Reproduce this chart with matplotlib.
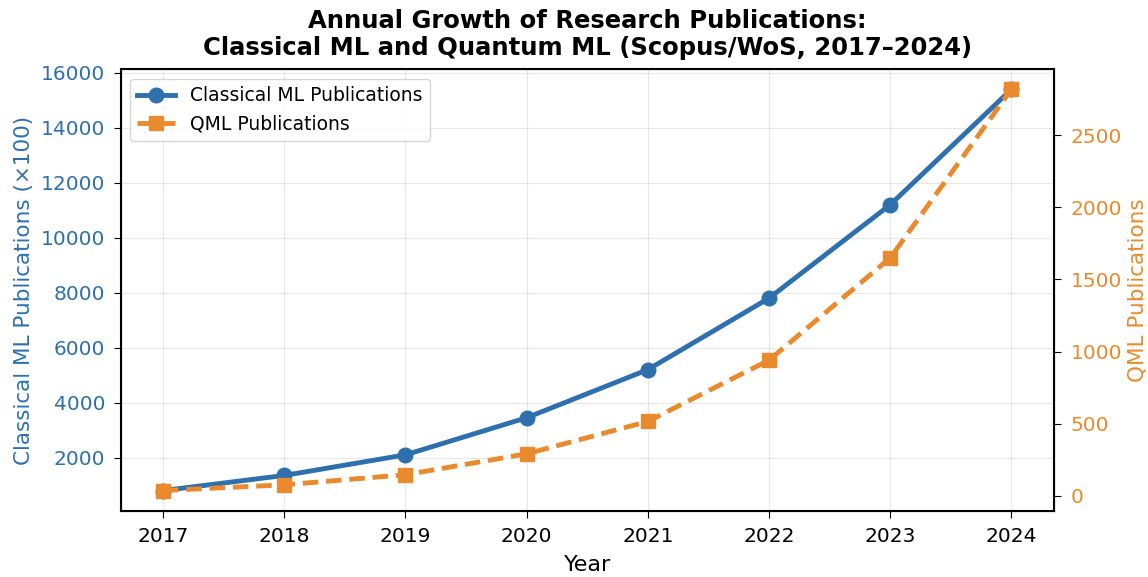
import matplotlib
matplotlib.use('Agg')
import matplotlib.pyplot as plt

# 数据
years = [2017, 2018, 2019, 2020, 2021, 2022, 2023, 2024]
classical_ml = [800, 1350, 2100, 3450, 5200, 7800, 11200, 15400]
qml = [35, 75, 145, 290, 515, 940, 1650, 2820]

blue = '#2E6FAE'
orange = '#E88A2D'

fig, ax1 = plt.subplots(figsize=(11.48, 5.77), dpi=100)

l1, = ax1.plot(years, classical_ml, color=blue, marker='o', linewidth=3.5,
               markersize=10.5, label='Classical ML Publications')
ax1.set_xlabel('Year', fontsize=16, labelpad=6)
ax1.set_ylabel('Classical ML Publications (×100)', color=blue, fontsize=15.5, labelpad=5)
ax1.tick_params(axis='y', labelcolor=blue, labelsize=14.5, pad=6, length=5)
ax1.tick_params(axis='x', labelsize=14.5, pad=7, length=5)
ax1.grid(True, alpha=0.3)

ax2 = ax1.twinx()
l2, = ax2.plot(years, qml, color=orange, marker='s', linestyle='--', linewidth=3.5,
               markersize=10.5, dashes=(3.2, 1.6), label='QML Publications')
ax2.set_ylabel('QML Publications', color=orange, fontsize=15.5, labelpad=4)
ax2.tick_params(axis='y', labelcolor=orange, labelsize=14.5, pad=7, length=5)

for sp in ax2.spines.values():
    sp.set_linewidth(1.5)

ax1.legend(handles=[l1, l2], loc='upper left', fontsize=13.5)

plt.title('Annual Growth of Research Publications:\nClassical ML and Quantum ML (Scopus/WoS, 2017–2024)',
          fontsize=17.5, fontweight='bold', pad=10)
plt.subplots_adjust(left=0.105, right=0.918, top=0.88, bottom=0.115)
plt.savefig('out.png')
